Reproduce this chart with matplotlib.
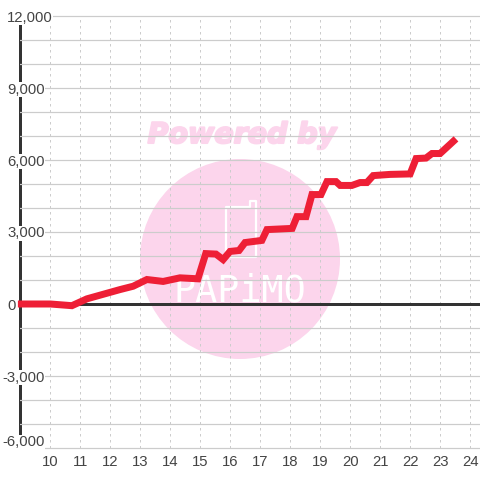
import matplotlib
matplotlib.use('Agg')
import matplotlib.pyplot as plt
import matplotlib.patheffects as pe
from matplotlib.patches import Circle, Polygon
from matplotlib.transforms import IdentityTransform, ScaledTranslation

# Значения
hours = [8.92, 10.0, 10.72, 11.22, 12.32, 12.76, 13.22, 13.76, 14.32, 14.92, 15.18, 15.52,
         15.76, 15.99, 16.29, 16.49, 17.05, 17.22, 18.06, 18.22, 18.52, 18.72, 19.02, 19.22,
         19.52, 19.66, 20.05, 20.32, 20.55, 20.76, 21.32, 21.99, 22.19, 22.52, 22.72, 22.99, 23.52]
values = [0, 0, -70, 215, 600, 740, 1020, 940, 1090, 1050, 2100, 2080,
          1850, 2190, 2230, 2560, 2650, 3100, 3150, 3640, 3640, 4560, 4560, 5100,
          5100, 4940, 4940, 5060, 5060, 5350, 5400, 5420, 6060, 6080, 6270, 6270, 6880]
x_ticks = list(range(10, 25))
y_major = [-6000, -3000, 0, 3000, 6000, 9000, 12000]
y_minor = [-5000, -4000, -2000, -1000, 1000, 2000, 4000, 5000, 7000, 8000, 10000, 11000]
y_labels = ['-6,000', '-3,000', '0', '3,000', '6,000', '9,000', '12,000']

text_color = '#444444'
grid_color = '#cccccc'
dark = '#333333'
pink = '#fcd5ec'
red = '#ee1f36'
px = 72 / 100  # пиксель в пунктах

plt.rcParams['font.family'] = ['Liberation Sans', 'DejaVu Sans']
fig = plt.figure(figsize=(4.8, 4.8), dpi=100, facecolor='white')
ax = fig.add_axes([20 / 480, 32 / 480, 460 / 480, 432 / 480])
ax.patch.set_visible(False)
ax.set_xlim(8.99, 24.32)
ax.set_ylim(-6000, 12000)


# Водяной знак рисуем в пикселях, под осями
def to_px(x, y):
    return (x, 480 - y)


pixel = IdentityTransform()
fig.add_artist(Circle(to_px(240, 259), 100, transform=pixel, color=pink, lw=0, zorder=-2))
fig.add_artist(Polygon([to_px(226, 207), to_px(250, 207), to_px(250, 201), to_px(256, 201),
                        to_px(256, 257), to_px(226, 257)], closed=True, transform=pixel,
                       fill=False, edgecolor='white', lw=1.6, joinstyle='round', zorder=-1))
powered = fig.text(242 / 480, 1 - 135 / 480, 'Powered by', color=pink, family='DejaVu Sans',
                   weight='bold', style='italic', fontsize=20.5, ha='center', va='center', zorder=-1)
powered.set_path_effects([pe.withStroke(linewidth=1.5, foreground=pink)])
fig.text(240 / 480, 1 - 291 / 480, 'PAPiMO', color='white', family='DejaVu Sans Mono',
         fontsize=26.5, ha='center', va='center', zorder=-1)

ax.set_xticks(x_ticks)
ax.set_yticks(y_major)
ax.set_yticks(y_minor, minor=True)
ax.set_yticklabels(y_labels)
ax.tick_params(which='both', length=0)
ax.tick_params(axis='x', colors=text_color, labelsize=10.7, pad=5)
ax.tick_params(axis='y', colors=text_color, labelsize=10.7, pad=13 * px)
ax.grid(axis='x', color=grid_color, lw=1 * px, linestyle=(0, (2.5, 3.5)))
ax.grid(axis='y', which='both', color=grid_color, lw=1.2 * px)
ax.set_axisbelow(True)
for line in ax.get_ygridlines():
    line.set_clip_on(False)

for side in ['top', 'right', 'bottom']:
    ax.spines[side].set_visible(False)
ax.spines['left'].set_color(dark)
ax.spines['left'].set_linewidth(3 * px)
ax.spines['left'].set_zorder(0.5)

# Подписи оси Y выровнены влево, минус вынесен, нижняя подпись приподнята
for label, text in zip(ax.get_yticklabels(), y_labels):
    label.set_ha('left')
    label.set_bbox(dict(facecolor='white', edgecolor='none', pad=0.5))
    shift_x = -5 if text.startswith('-') else 0
    shift_y = 7 if text == '-6,000' else 0
    label.set_transform(label.get_transform()
                        + ScaledTranslation(shift_x / 100, shift_y / 100, fig.dpi_scale_trans))

ax.axhline(0, color=dark, lw=3 * px, zorder=3)
ax.plot(hours, values, color=red, lw=7 * px, solid_joinstyle='miter', solid_capstyle='butt',
        clip_on=False, zorder=4)

fig.savefig('out.png', dpi=100)
